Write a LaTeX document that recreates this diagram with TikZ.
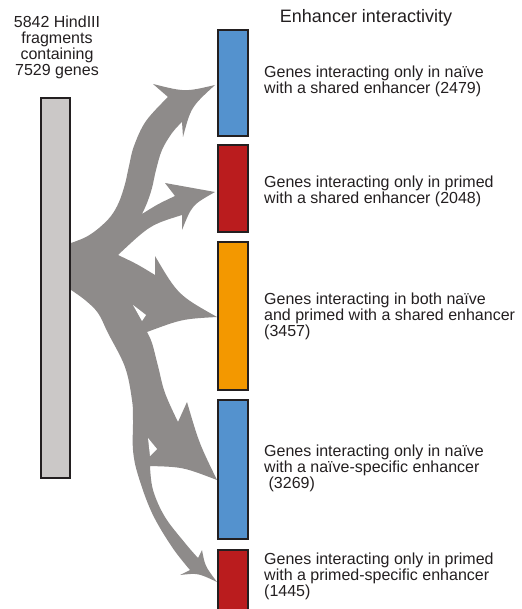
\documentclass[tikz,border=0pt]{standalone}
\usepackage{fontspec}
\setmainfont{Liberation Sans}
\definecolor{boxline}{RGB}{35,31,32}
\definecolor{txt}{RGB}{35,31,32}
\definecolor{bluebox}{RGB}{84,146,206}
\definecolor{redbox}{RGB}{186,28,30}
\definecolor{orangebox}{RGB}{243,152,0}
\definecolor{bargray}{RGB}{203,200,199}
\definecolor{arrowgray}{RGB}{142,139,138}
\begin{document}
\begin{tikzpicture}[x=1pt,y=-1pt,
  colbox/.style={draw=boxline, line width=2pt, inner sep=0pt, outer sep=0pt, anchor=north west, minimum width=30pt},
  lbl/.style={anchor=west, align=left, font=\fontsize{16}{16}\selectfont, text=txt, inner sep=0pt},
  tc/.style={smooth, tension=0.6}]
\useasboundingbox (0,0) rectangle (521,609);
\clip (0,0) rectangle (521,609);

% arrows (one merged shape)
\fill[arrowgray]
 (71,243)
 -- plot[tc] coordinates {(71,243) (86,237) (99,228) (111,216) (119,202) (125,184) (129,166) (134,146) (146,121) (168,97)}
 -- (153,84)
 .. controls (185,92) .. (215,85)
 .. controls (191,107) .. (183,137)
 -- (182,122)
 -- plot[tc] coordinates {(182,122) (172,133) (162,150) (156,170) (152,188) (147,203) (142,214)}
 .. controls (158,204) .. (175,196)
 -- (165,183)
 .. controls (190,188) .. (215,192)
 .. controls (192,205) .. (182,230)
 -- (182,215)
 .. controls (150,225) .. (118,255)
 .. controls (137,264) .. (155,275)
 -- (155,256)
 .. controls (178,295) .. (217,317)
 .. controls (182,319) .. (147,332)
 -- plot[tc] coordinates {(147,332) (152,343) (158,366) (165,393) (178,422)}
 -- (187,402)
 .. controls (199,443) .. (217,480)
 .. controls (183,467) .. (150,466)
 -- plot[tc] coordinates {(150,466) (153,490) (165,517) (185,543) (198,558)}
 -- (202,550)
 .. controls (205,566) .. (217,582)
 .. controls (198,573) .. (180,575)
 -- (190,570)
 -- plot[tc] coordinates {(190,570) (172,547) (152,513) (138,475) (133,450) (133,420) (132,400) (125,367) (108,333) (98,313) (85,300) (71,290)}
 -- cycle;
% small gaps between arrows
\fill[white] (133,305) -- (146,315) -- (142,321) -- cycle;
\fill[white] (148,438) -- (157,449) -- (150,456) -- cycle;

% source bar
\node[colbox, fill=bargray, minimum width=29pt, minimum height=380pt] (src) at (41,98) {};
% target boxes
\node[colbox, fill=bluebox, minimum height=106pt] (b1) at (218,30) {};
\node[colbox, fill=redbox, minimum height=87pt] (r1) at (218,145) {};
\node[colbox, fill=orangebox, minimum height=148pt] (o1) at (218,242) {};
\node[colbox, fill=bluebox, minimum height=139pt] (b2) at (218,400) {};
\node[colbox, fill=redbox, minimum height=80pt] (r2) at (218,550) {};

% texts
\node[align=center, font=\fontsize{16}{16}\selectfont, text=txt, inner sep=0pt] (srctext) at (57,47) {5842 HindIII\\fragments\\containing\\7529 genes};
\node[font=\fontsize{18}{18}\selectfont, text=txt, inner sep=0pt] (title) at (366,18) {Enhancer interactivity};
\node[lbl] (l1) at (264,81) {Genes interacting only in naïve\\with a shared enhancer (2479)};
\node[lbl] (l2) at (264,191) {Genes interacting only in primed\\with a shared enhancer (2048)};
\node[lbl] (l3) at (264,316) {Genes interacting in both naïve\\and primed with a shared enhancer\\(3457)};
\node[lbl] (l4) at (264,468) {Genes interacting only in naïve\\with a naïve-specific enhancer\\\hspace*{0.278em}(3269)};
\node[lbl] (l5) at (264,576) {Genes interacting only in primed\\with a primed-specific enhancer\\(1445)};
\end{tikzpicture}
\end{document}
